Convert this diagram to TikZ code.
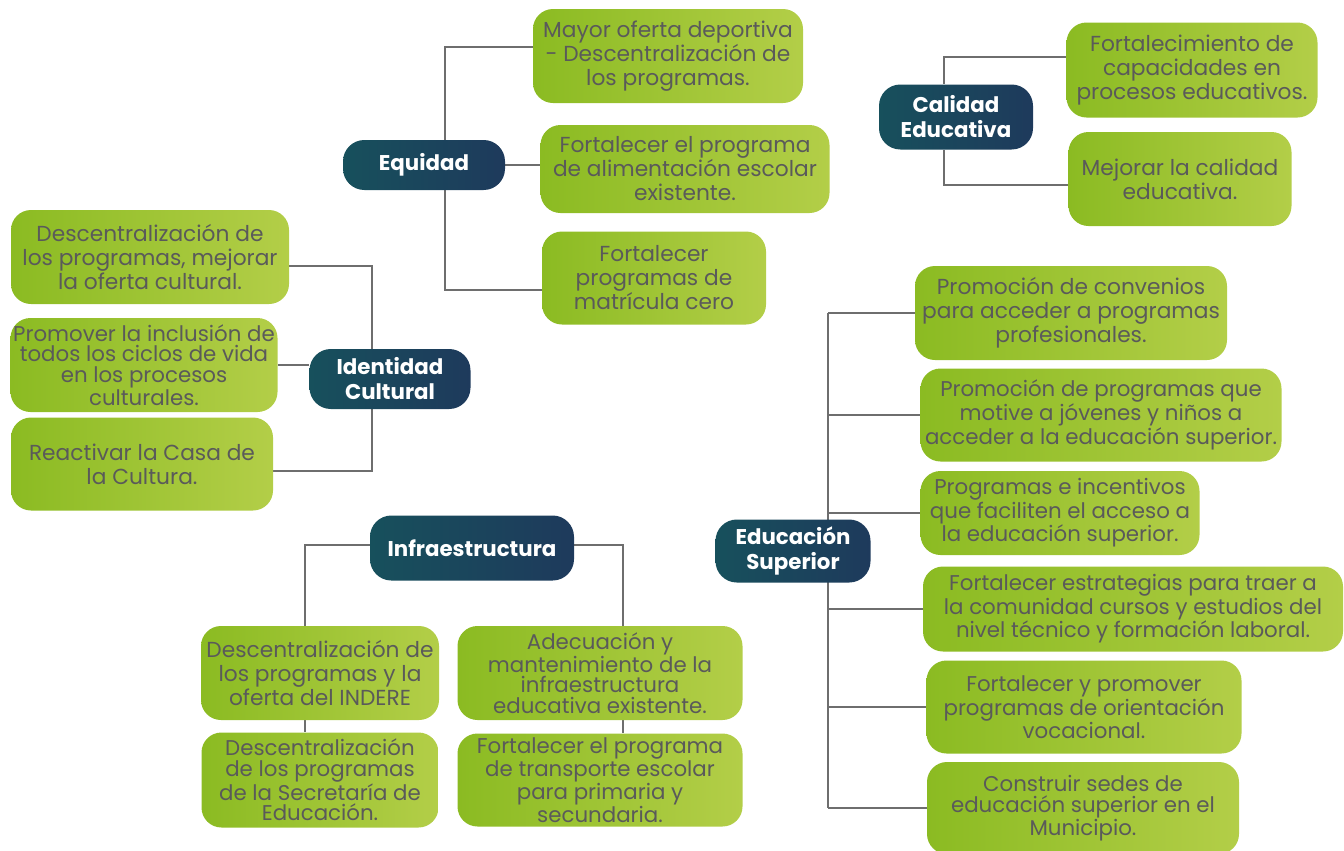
\documentclass[tikz,border=0pt]{standalone}
\usepackage{fontspec}
\setmainfont{Poppins}
\usepackage{tikz}
\usetikzlibrary{positioning, backgrounds, calc}
\usepackage{xcolor}
\definecolor{ejeleft}{HTML}{17505C}
\definecolor{ejeright}{HTML}{1E3A5C}
\definecolor{metaleft}{HTML}{8BBB22}
\definecolor{metaright}{HTML}{B3CE48}
\definecolor{metatext}{HTML}{5A5A5A}
\definecolor{linkgray}{HTML}{6E6E6E}

\begin{document}
\begin{tikzpicture}[
    x=0.75pt, y=-0.75pt,
    eje/.style={rounded corners=16pt, align=center, inner sep=0pt, text=white,
        font=\fontsize{16}{18.75}\selectfont\bfseries, left color=ejeleft, right color=ejeright},
    meta/.style={rounded corners=15pt, align=center, inner sep=0pt, text=metatext,
        font=\fontsize{16.3}{18}\selectfont, left color=metaleft, right color=metaright},
    tight/.style={font=\fontsize{16}{15.4}\selectfont},
    boxsize/.style 2 args={minimum width=#1*0.75pt, minimum height=#2*0.75pt},
    link/.style={draw=linkgray, line width=1.6pt}
]
\useasboundingbox (0,0) rectangle (1344,850);

% Equidad
\node[eje, boxsize={162}{50}] (eq) at (424,165) {Equidad};
\node[meta, boxsize={270}{94}] (e1) at (668,56) {Mayor oferta deportiva\\- Descentralización de\\los programas.};
\node[meta, boxsize={289}{88}] (e2) at (685,169) {Fortalecer el programa\\de alimentación escolar\\existente.};
\node[meta, boxsize={224}{93}] (e3) at (654,278) {Fortalecer\\programas de\\matrícula cero};

% Calidad Educativa
\node[eje, boxsize={154}{65}] (cal) at (956,117) {Calidad\\Educativa};
\node[meta, boxsize={251}{95}] (c1) at (1192,70) {Fortalecimiento de\\capacidades en\\procesos educativos.};
\node[meta, boxsize={223}{94}] (c2) at (1180,179) {Mejorar la calidad\\educativa.};

% Identidad Cultural
\node[eje, boxsize={161}{60}] (id) at (390,379) {Identidad\\Cultural};
\node[meta, boxsize={278}{94}] (i1) at (150,257) {Descentralización de\\los programas, mejorar\\la oferta cultural.};
\node[meta, tight, boxsize={267}{94}] (i2) at (144,365) {Promover la inclusión de\\todos los ciclos de vida\\en los procesos\\culturales.};
\node[meta, boxsize={262}{93}] (i3) at (142,464) {Reactivar la Casa de\\la Cultura.};

% Infraestructura
\node[eje, boxsize={204}{65}] (inf) at (472,548) {Infraestructura};
\node[meta, boxsize={238}{94}] (f1) at (320,673) {Descentralización de\\los programas y la\\oferta del INDERE};
\node[meta, tight, boxsize={285}{94}] (f2) at (600,673) {Adecuación y\\mantenimiento de la\\infraestructura\\educativa existente.};
\node[meta, tight, boxsize={237}{95}] (f3) at (320,780) {Descentralización\\de los programas\\de la Secretaría de\\Educación.};
\node[meta, tight, boxsize={285}{93}] (f4) at (600,780) {Fortalecer el programa\\de transporte escolar\\para primaria y\\secundaria.};

% Educacion Superior
\node[eje, boxsize={155}{63}] (es) at (793,551) {Educación\\Superior};
\node[meta, boxsize={312}{94}] (s1) at (1071,313) {Promoción de convenios\\para acceder a programas\\profesionales.};
\node[meta, tight, boxsize={361}{93}] (s2) at (1101,415) {Promoción de programas que\\motive a jóvenes y niños a\\acceder a la educación superior.};
\node[meta, tight, boxsize={279}{84}] (s3) at (1060,513) {Programas e incentivos\\que faciliten el acceso a\\la educación superior.};
\node[meta, tight, boxsize={420}{85}] (s4) at (1133,609) {Fortalecer estrategias para traer a\\la comunidad cursos y estudios del\\nivel técnico y formación laboral.};
\node[meta, tight, boxsize={315}{93}] (s5) at (1084,707) {Fortalecer y promover\\programas de orientación\\vocacional.};
\node[meta, tight, boxsize={312}{92}] (s6) at (1083,808) {Construir sedes de\\educación superior en el\\Municipio.};

% Connections
\begin{scope}[on background layer]
\draw[link] ($(e1.west)+(0,-9)$) -| ($(eq.north)+(21,0)$);
\draw[link] (eq.east) -- (eq.east -| e2.west);
\draw[link] ($(e3.west)+(0,12)$) -| ($(eq.south)+(21,0)$);

\draw[link] ($(c1.west)+(0,-13)$) -| ($(cal.north)+(-12,0)$);
\draw[link] ($(c2.west)+(0,6)$) -| ($(cal.south)+(-12,0)$);

\draw[link] ($(i1.east)+(0,9)$) -| ($(id.north)+(-18,0)$);
\draw[link] (i2.east) -- (i2.east -| id.west);
\draw[link] ($(i3.east)+(0,7)$) -| ($(id.south)+(-18,0)$);

\draw[link] ($(inf.west)+(0,-3)$) -| ($(f1.north)+(-15,0)$);
\draw[link] ($(inf.east)+(0,-3)$) -| ($(f2.north)+(23,0)$);
\draw[link] ($(f1.south)+(-15,0)$) -- ($(f3.north)+(-15,0)$);
\draw[link] ($(f2.south)+(23,0)$) -- ($(f4.north)+(23,0)$);

% trunk behind Educacion Superior
\coordinate (estrunk) at ($(es.north)+(35,0)$);
\draw[link] (s1.west -| estrunk) -- (s6.west -| estrunk);
\foreach \n in {s1,s2,s3,s4,s5,s6}
    \draw[link] (\n.west) -- (\n.west -| estrunk);
\end{scope}

\end{tikzpicture}
\end{document}
